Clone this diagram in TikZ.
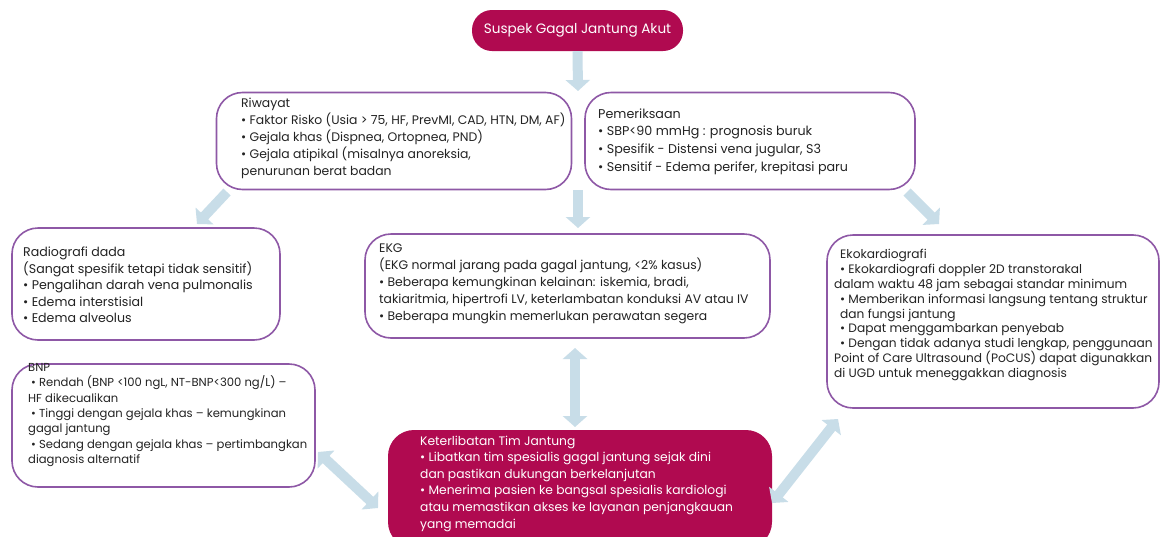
\documentclass[tikz,border=0pt]{standalone}
\usepackage{fontspec}
\setmainfont{Poppins}
\usetikzlibrary{arrows.meta}
\definecolor{crimson}{RGB}{176,10,80}
\definecolor{boxpurple}{RGB}{142,88,166}
\definecolor{arrowblue}{RGB}{200,221,232}
\definecolor{txt}{RGB}{35,35,35}
\begin{document}
\begin{tikzpicture}[x=1pt,y=-1pt,
  box/.style={draw=boxpurple, line width=1.6pt, rounded corners=26pt, fill=white, inner sep=0pt},
  redbox/.style={fill=crimson, rounded corners=26pt, inner sep=0pt},
  btext/.style={anchor=west, align=left, inner sep=0pt, text=txt},
  wtext/.style={anchor=west, align=left, inner sep=0pt, text=white},
  barrow/.style={draw=arrowblue, line width=10pt, -{Triangle[length=11pt,width=24pt]}},
  darrow/.style={draw=arrowblue, line width=10pt, {Triangle[length=11pt,width=24pt]}-{Triangle[length=11pt,width=24pt]}}]
\useasboundingbox (0,0) rectangle (1162,536);
\clip (0,0) rectangle (1162,536);
\fill[white] (0,0) rectangle (1162,536);

% top node
\node[redbox, rounded corners=20pt, minimum width=211pt, minimum height=41pt, text=white,
      font=\fontsize{13.6}{16}\selectfont] (top) at (577.5,30.5) {Suspek Gagal Jantung Akut};

% boxes
\node[box, minimum width=355pt, minimum height=97pt]  (riw) at (394,141) {};
\node[box, minimum width=330pt, minimum height=97pt]  (pem) at (750,141) {};
\node[box, minimum width=268pt, minimum height=112pt] (rad) at (146,284) {};
\node[box, minimum width=405pt, minimum height=104pt] (ekg) at (567.5,286) {};
\node[box, minimum width=332pt, minimum height=173pt] (eko) at (993,321.5) {};
\node[box, minimum width=303pt, minimum height=123pt] (bnp) at (163.5,425.5) {};
\node[redbox, minimum width=384pt, minimum height=118pt] (ket) at (580,489) {};

% texts
\node[btext, font=\fontsize{12.4}{17}\selectfont] (riwt) at (241,138) {Riwayat\\
\textbullet{} Faktor Risko (Usia > 75, HF, PrevMI, CAD, HTN, DM, AF)\\
\textbullet{} Gejala khas (Dispnea, Ortopnea, PND)\\
\textbullet{} Gejala atipikal (misalnya anoreksia,\\
penurunan berat badan};

\node[btext, font=\fontsize{12.7}{17.6}\selectfont] (pemt) at (598,141.5) {Pemeriksaan\\
\textbullet{} SBP<90 mmHg : prognosis buruk\\
\textbullet{} Spesifik - Distensi vena jugular, S3\\
\textbullet{} Sensitif - Edema perifer, krepitasi paru};

\node[btext, font=\fontsize{12.6}{16.5}\selectfont] (radt) at (23,285) {Radiografi dada\\
(Sangat spesifik tetapi tidak sensitif)\\
\textbullet{} Pengalihan darah vena pulmonalis\\
\textbullet{} Edema interstisial\\
\textbullet{} Edema alveolus};

\node[btext, font=\fontsize{12.4}{17}\selectfont] (ekgt) at (379,284) {EKG\\
(EKG normal jarang pada gagal jantung, <2\% kasus)\\
\textbullet{} Beberapa kemungkinan kelainan: iskemia, bradi,\\
takiaritmia, hipertrofi LV, keterlambatan konduksi AV atau IV\\
\textbullet{} Beberapa mungkin memerlukan perawatan segera};

\node[btext, font=\fontsize{12.2}{14.8}\selectfont] (ekot) at (834,315) {\hspace{6pt}Ekokardiografi\\
\hspace{6pt}\textbullet{} Ekokardiografi doppler 2D transtorakal\\
dalam waktu 48 jam sebagai standar minimum\\
\hspace{6pt}\textbullet{} Memberikan informasi langsung tentang struktur\\
\hspace{6pt}dan fungsi jantung\\
\hspace{6pt}\textbullet{} Dapat menggambarkan penyebab\\
\hspace{6pt}\textbullet{} Dengan tidak adanya studi lengkap, penggunaan\\
Point of Care Ultrasound (PoCUS) dapat digunakkan\\
di UGD untuk meneggakkan diagnosis};

\node[btext, font=\fontsize{11.6}{15.3}\selectfont] (bnpt) at (28,415) {BNP\\
\hspace{3pt}\textbullet{} Rendah (BNP <100 ngL, NT-BNP<300 ng/L) –\\
HF dikecualikan\\
\hspace{3pt}\textbullet{} Tinggi dengan gejala khas – kemungkinan\\
gagal jantung\\
\hspace{3pt}\textbullet{} Sedang dengan gejala khas – pertimbangkan\\
diagnosis alternatif};

\node[wtext, font=\fontsize{12.3}{16.6}\selectfont] (kett) at (420,483.5) {Keterlibatan Tim Jantung\\
\textbullet{} Libatkan tim spesialis gagal jantung sejak dini\\
dan pastikan dukungan berkelanjutan\\
\textbullet{} Menerima pasien ke bangsal spesialis kardiologi\\
atau memastikan akses ke layanan penjangkauan\\
yang memadai};

% connector end points
\coordinate (a1e) at (578,91);
\coordinate (a2s) at (227,192);
\coordinate (a2e) at (197,224);
\coordinate (a3s) at (578,190);
\coordinate (a3e) at (578,228);
\coordinate (a4s) at (907,192);
\coordinate (a4e) at (939,224);
\coordinate (d1a) at (575,348);
\coordinate (d1b) at (575,427);
\coordinate (d2a) at (318,452);
\coordinate (d2b) at (378,508);
\coordinate (d3a) at (838,419);
\coordinate (d3b) at (772,503);

\draw[barrow] (top.south) -- (a1e);
\draw[barrow] (a2s) -- (a2e);
\draw[barrow] (a3s) -- (a3e);
\draw[barrow] (a4s) -- (a4e);
\draw[darrow] (d1a) -- (d1b);
\draw[darrow] (d2a) -- (d2b);
\draw[darrow] (d3a) -- (d3b);
\end{tikzpicture}
\end{document}
